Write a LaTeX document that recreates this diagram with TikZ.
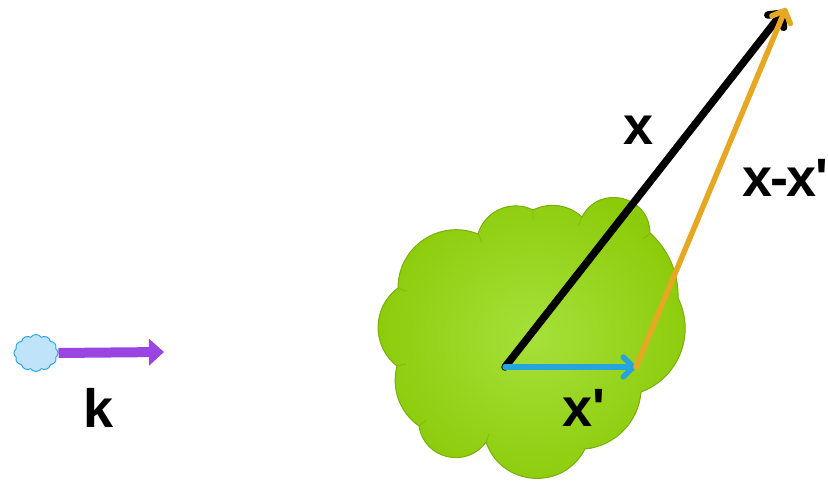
\documentclass[tikz,border=0pt]{standalone}
\usepackage{fontspec}
\setmainfont{Liberation Sans}
\usetikzlibrary{shapes.symbols,arrows.meta,calc}
\definecolor{leafgreen}{HTML}{8CCB0A}
\definecolor{leaflight}{HTML}{A6E03A}
\definecolor{leafedge}{HTML}{7AAE08}
\definecolor{skyfill}{HTML}{BFE4FA}
\definecolor{skyedge}{HTML}{2CA8E2}
\definecolor{vecblue}{HTML}{27A3DD}
\definecolor{vecorange}{HTML}{E6A823}
\definecolor{vecpurple}{HTML}{9A45E2}
\tikzset{
  puff/.style={to path={.. controls ($(\tikztostart)!{2/3*tan(#1/2)/sin(#1)}!#1:(\tikztotarget)$) and ($(\tikztotarget)!{2/3*tan(#1/2)/sin(#1)}!-#1:(\tikztostart)$) .. (\tikztotarget)}},
  blobstyle/.style={draw=leafedge, line width=1pt, inner color=leaflight, outer color=leafgreen},
  notch/.style={draw=leafedge, line width=0.8pt, opacity=0.6},
  smallcloud/.style={cloud, cloud puffs=12, cloud puff arc=110, aspect=1.2,
    inner sep=0pt, minimum width=44pt, minimum height=37pt,
    draw=skyedge, line width=1pt, fill=skyfill},
  vecline/.style={line width=#1, line cap=round,
    -{Straight Barb[length=10pt,width=20pt,line width=#1,round]}},
  lbl/.style={font=\fontsize{54}{58}\selectfont\bfseries, inner sep=0pt, anchor=base west}
}
\begin{document}
\begin{tikzpicture}[x=1pt,y=1pt]
\useasboundingbox (0,0) rectangle (828,482);
% big cloud cusps
\coordinate (ctr) at (528,144);
\coordinate (cA) at (398,194);
\coordinate (cK) at (478,248);
\coordinate (cJ) at (533,272);
\coordinate (cI) at (582,265);
\coordinate (cH) at (650,249);
\coordinate (cG) at (678,184);
\coordinate (cF) at (641,90);
\coordinate (cE) at (585,33);
\coordinate (cD) at (486,40);
\coordinate (cC) at (419,56);
\coordinate (cB) at (397,116);
\path[blobstyle] (cA) to[puff=56] (cK) to[puff=50] (cJ) to[puff=35] (cI)
  to[puff=76] (cH) to[puff=25] (cG) to[puff=48] (cF) to[puff=40] (cE)
  to[puff=67] (cD) to[puff=68] (cC) to[puff=35] (cB) to[puff=53] (cA) -- cycle;
\foreach \c in {cA,cK,cJ,cI,cH,cB,cC,cD}
  \draw[notch] (\c) -- ($(\c)!9pt!(ctr)$);
\node[smallcloud] (src) at (36,129) {};
\coordinate (kend) at (164,130);
\draw[vecpurple, line width=10pt, -{Triangle[length=15pt,width=26pt]}] (src.east) -- (kend);
\coordinate (O) at (505,115);
\coordinate (P) at (636,115);
\coordinate (T) at (786,474);
\draw[vecline=7.5pt, black, shorten >=3pt] (O) -- (T);
\draw[vecline=5.5pt, vecblue] (O) -- (P);
\draw[vecline=5.5pt, vecorange] (P) -- (T);
\node[lbl] (lx) at (623,337) {x};
\node[lbl] (lxx) at (742,285) {x\kern-2pt-\kern-1.5pt x\kern-1pt\textquotesingle};
\node[lbl] (lxp) at (562,55) {x\textquotesingle};
\node[lbl] (lk) at (83,54) {k};
\end{tikzpicture}
\end{document}
